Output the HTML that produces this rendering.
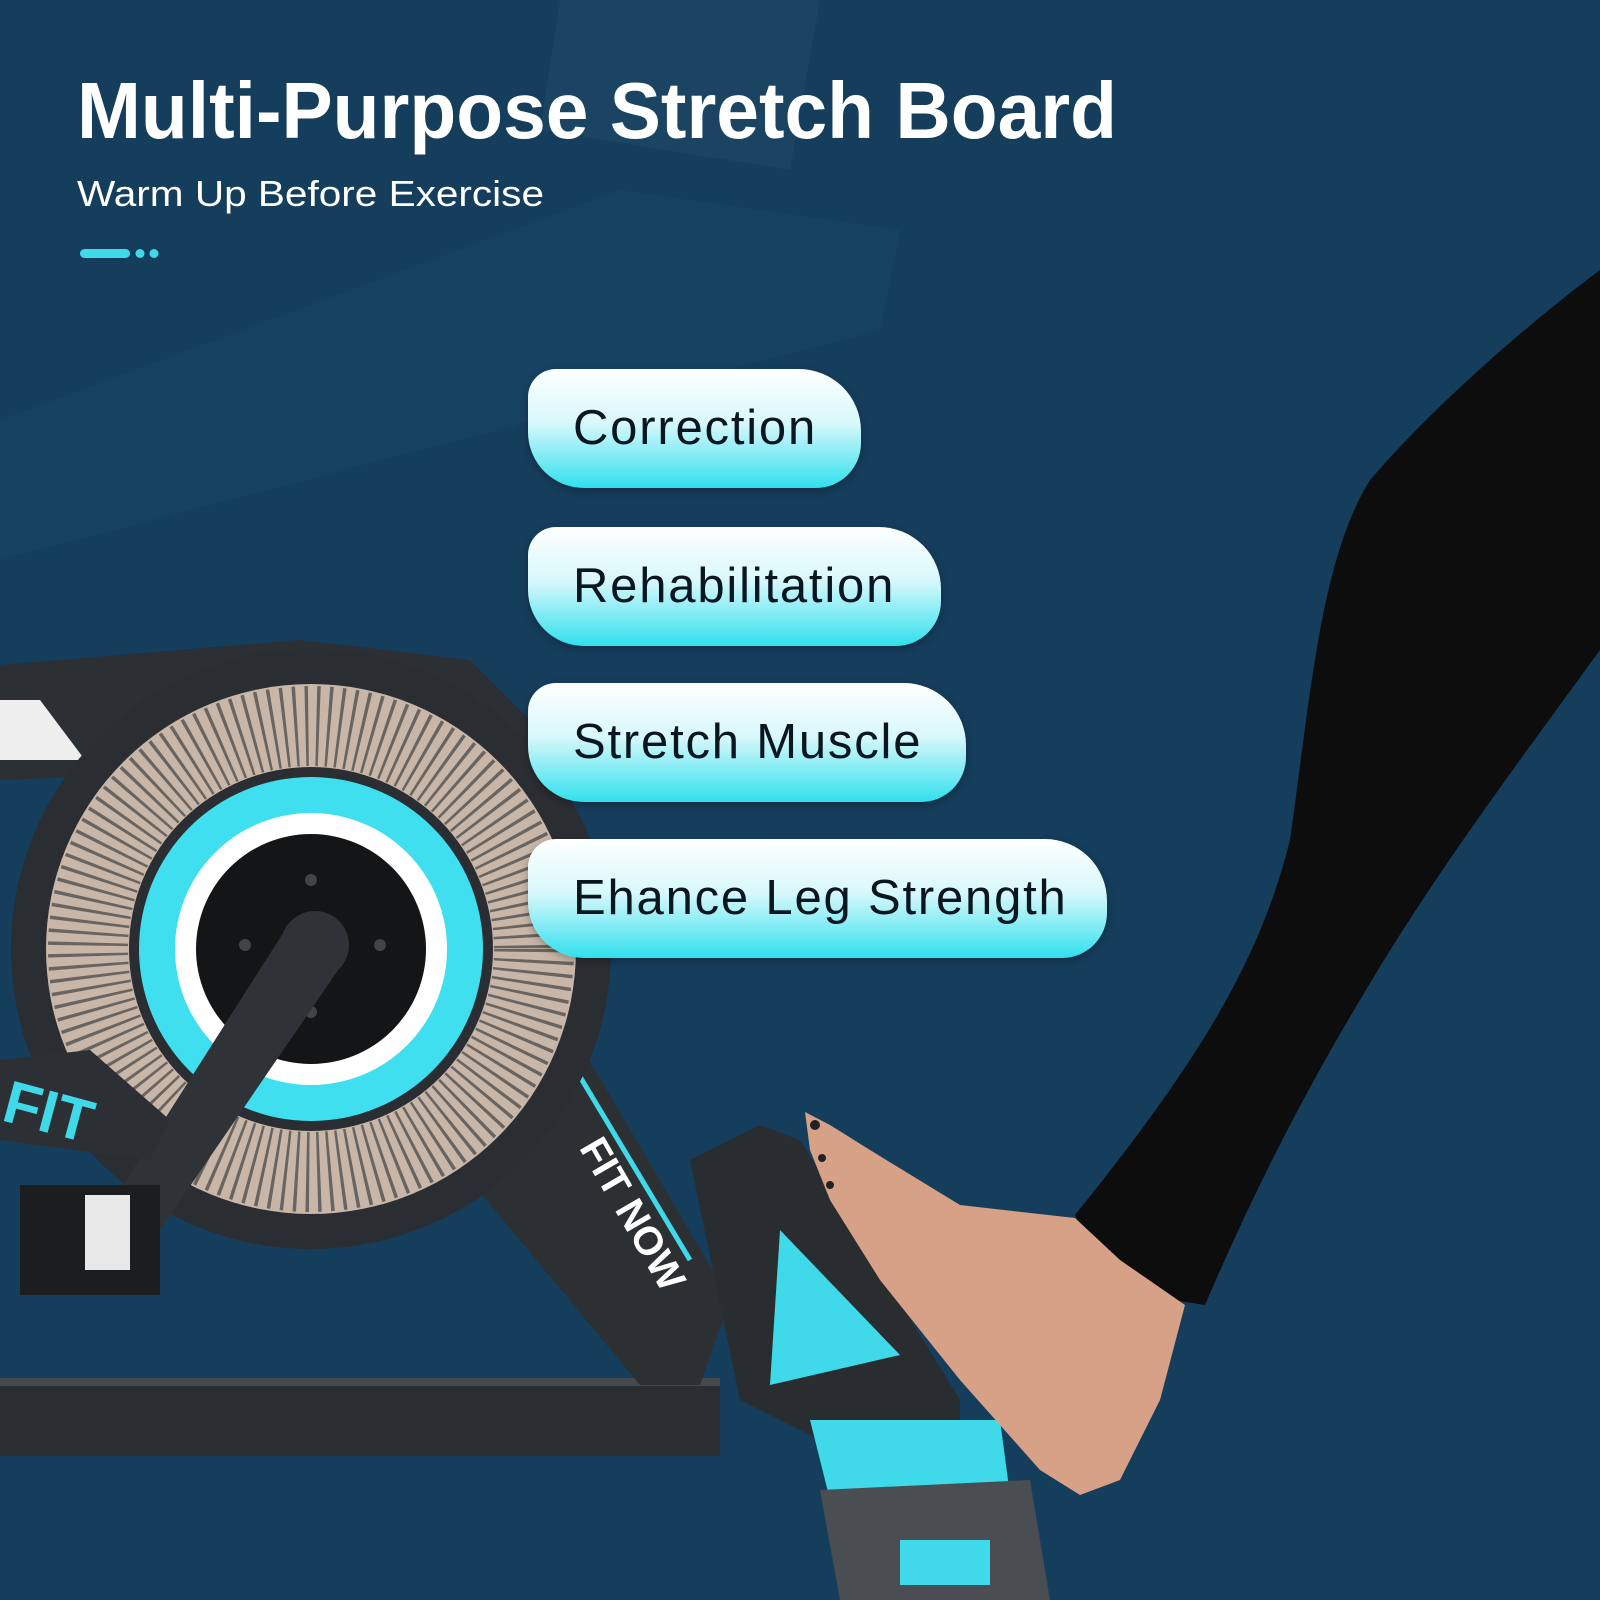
<!DOCTYPE html>
<html><head><meta charset="utf-8"><style>
html,body{margin:0;padding:0;background:#153d5c;}
#c{position:relative;width:1600px;height:1600px;overflow:hidden;background:#153d5c;font-family:"Liberation Sans",sans-serif;}
svg{position:absolute;left:0;top:0;}
.pill{position:absolute;left:528px;height:119px;border-radius:28px 62px 45px 56px;background:linear-gradient(180deg,#ffffff 0%,#d8f8fb 45%,#30e0ee 100%);box-shadow:0 3px 8px rgba(0,0,0,.25);}
.pill span{position:absolute;left:45px;top:31px;font-size:49px;letter-spacing:1.8px;color:#0a1620;white-space:nowrap;}
</style></head><body><div id="c">
<svg width="1600" height="1600" viewBox="0 0 1600 1600">
<rect width="1600" height="1600" fill="#153d5c"/>
<!-- faint background console -->
<polygon points="560,0 820,0 790,170 540,130" fill="#2a5a72" opacity="0.25"/>
<polygon points="0,420 620,190 900,230 880,330 0,560" fill="#1f4d6a" opacity="0.3"/>
<!-- title -->
<text x="77" y="138" font-size="80" font-weight="bold" fill="#fff" textLength="1040" lengthAdjust="spacingAndGlyphs">Multi-Purpose Stretch Board</text>
<text x="77" y="206" font-size="36" fill="#fff" textLength="467" lengthAdjust="spacingAndGlyphs">Warm Up Before Exercise</text>
<rect x="80" y="249" width="50" height="9" rx="4.5" fill="#3fd9ea"/>
<circle cx="140" cy="253.5" r="4.5" fill="#3fd9ea"/><circle cx="154" cy="253.5" r="4.5" fill="#3fd9ea"/>
<!-- base bar -->
<rect x="0" y="1378" width="720" height="78" fill="#2b2e31"/>
<rect x="0" y="1378" width="720" height="8" fill="#45494d"/>
<!-- diagonal leg -->
<polygon points="420,1120 560,1010 730,1300 700,1385 640,1385" fill="#2d3033"/>
<line x1="555" y1="1035" x2="690" y2="1260" stroke="#3fd9ea" stroke-width="5"/>
<text x="560" y="1160" font-size="40" font-weight="bold" fill="#fff" transform="rotate(60 580 1170)">FIT NOW</text>
<!-- front block -->
<polygon points="690,1160 760,1125 800,1140 960,1400 960,1440 820,1440 740,1400" fill="#2a2d30"/>
<polygon points="780,1230 900,1355 770,1385" fill="#3fd9ea"/>
<polygon points="810,1420 1000,1420 1010,1495 830,1500" fill="#3fd9ea"/>
<polygon points="820,1490 1030,1480 1050,1600 840,1600" fill="#4a4e52"/>
<rect x="900" y="1540" width="90" height="45" fill="#3fd9ea"/>
<!-- frame -->
<polygon points="0,665 300,640 470,660 540,730 560,760 480,760 0,780" fill="#2c2f33"/>
<polygon points="0,700 40,700 85,760 0,760" fill="#eee"/>
<!-- wheel -->
<circle cx="311" cy="949" r="300" fill="#2a2d31"/>
<circle cx="311" cy="949" r="265" fill="#c8b6a8"/>
<circle cx="311" cy="949" r="223" fill="none" stroke="#2a2d31" stroke-width="80" stroke-dasharray="3 8" opacity="0.6"/>
<circle cx="311" cy="949" r="182" fill="#2a2d31"/>
<circle cx="311" cy="949" r="172" fill="#3fdff0"/>
<circle cx="311" cy="949" r="136" fill="#ffffff"/>
<circle cx="311" cy="949" r="115" fill="#141517"/>
<circle cx="311" cy="880" r="6" fill="#444"/><circle cx="380" cy="945" r="6" fill="#444"/><circle cx="245" cy="945" r="6" fill="#444"/><circle cx="311" cy="1012" r="6" fill="#444"/>
<!-- crank -->
<polygon points="285,930 345,960 160,1230 110,1205" fill="#2f3236"/>
<circle cx="315" cy="945" r="34" fill="#2f3236"/>
<!-- pedal -->
<rect x="20" y="1185" width="140" height="110" fill="#1c1d1f"/>
<rect x="85" y="1195" width="45" height="75" fill="#e8e8e8"/>
<polygon points="0,1060 90,1050 170,1120 150,1160 0,1140" fill="#2c2f33"/>
<text x="0" y="1120" font-size="60" font-weight="bold" fill="#3fd9ea" transform="rotate(15 0 1120)">FIT</text>
<!-- leg -->
<path d="M1600,270 C1520,330 1430,410 1370,480 C1320,560 1310,700 1290,840 C1260,960 1200,1060 1075,1215 L1110,1290 L1205,1305 C1250,1200 1300,1100 1360,1000 C1430,880 1520,760 1600,650 Z" fill="#0d0d0e"/>
<!-- foot -->
<polygon points="805,1112 830,1125 870,1150 960,1205 1075,1218 1120,1260 1185,1305 1160,1400 1120,1480 1080,1495 1040,1470 960,1380 880,1280 830,1200 810,1150" fill="#d7a188"/>
<circle cx="815" cy="1125" r="5" fill="#222"/><circle cx="822" cy="1158" r="4" fill="#222"/><circle cx="830" cy="1185" r="4" fill="#222"/>
</svg>
<div class="pill" style="top:369px;width:333px;"><span>Correction</span></div>
<div class="pill" style="top:527px;width:413px;"><span>Rehabilitation</span></div>
<div class="pill" style="top:683px;width:438px;"><span>Stretch Muscle</span></div>
<div class="pill" style="top:839px;width:579px;"><span>Ehance Leg Strength</span></div>
</div></body></html>
